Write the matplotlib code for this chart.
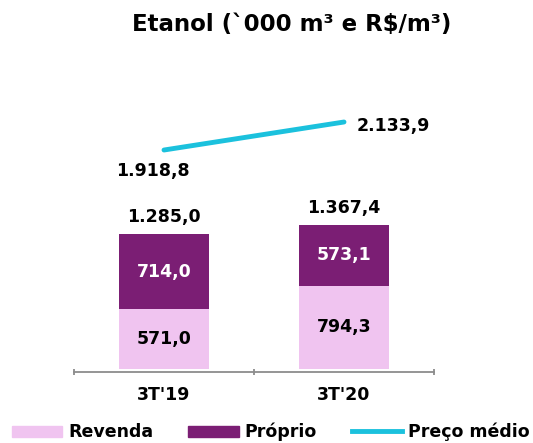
import matplotlib
matplotlib.use("Agg")
import matplotlib.pyplot as plt
from matplotlib.patches import Patch
from matplotlib.lines import Line2D

categories = ["3T'19", "3T'20"]
revenda = [571.0, 794.3]
proprio = [714.0, 573.1]
totais = [1285.0, 1367.4]
preco = [1918.8, 2133.9]
title = "Etanol (`000 m³ e R$/m³)"

def fmt(v):
    s = f"{v:,.1f}"
    return s.replace(",", "X").replace(".", ",").replace("X", ".")

C_REV = "#F0C4F0"
C_PRO = "#7B1E74"
C_LINE = "#1BC1DD"

plt.rcParams['font.family'] = ['DejaVu Sans']
W, H = 533, 443
fig = plt.figure(figsize=(W/100, H/100), dpi=100)

ax_bottom = 443 - 369
ax_h = 250
ax = fig.add_axes([74/W, ax_bottom/H, 360/W, ax_h/H])
x = list(range(len(categories)))
ax.bar(x, revenda, width=0.505, color=C_REV, zorder=2)
ax.bar(x, proprio, width=0.505, bottom=revenda, color=C_PRO, zorder=2)
ax.set_xlim(-0.5, 1.5)
ax.set_ylim(0, 2380)

for i in x:
    ax.text(i, revenda[i]/2, fmt(revenda[i]), ha='center', va='center',
            fontsize=12.5, fontweight='bold', color='black')
    ax.text(i, revenda[i] + proprio[i]/2, fmt(proprio[i]), ha='center', va='center',
            fontsize=12.5, fontweight='bold', color='white')
    ax.annotate(fmt(totais[i]), (i, totais[i]), xytext=(0, 12.5), textcoords='offset points',
                ha='center', va='center', fontsize=12.5, fontweight='bold')

for s in ['top', 'right', 'left']:
    ax.spines[s].set_visible(False)
ax.spines['bottom'].set_color('#8c8c8c')
ax.spines['bottom'].set_linewidth(1.3)
ax.spines['bottom'].set_position(('outward', 2))
ax.set_yticks([])
ax.set_xticks(x)
ax.set_xticklabels(categories, fontsize=12.5, fontweight='bold')
ax.tick_params(axis='x', which='major', length=0, pad=10)
ax.set_xticks([-0.5, 0.5, 1.5], minor=True)
ax.tick_params(axis='x', which='minor', length=5, width=1.3, direction='inout', color='#8c8c8c')

ax2 = ax.twinx()
ax2.set_ylim(237, 2157)
ax2.plot(x, preco, color=C_LINE, lw=3.5, solid_capstyle='round', zorder=3)
ax2.axis('off')
ax2.annotate(fmt(preco[0]), (0, preco[0]), xytext=(-8, -15), textcoords='offset points',
             ha='center', va='center', fontsize=12.5, fontweight='bold')
ax2.annotate(fmt(preco[1]), (1, preco[1]), xytext=(9.4, -2.9), textcoords='offset points',
             ha='left', va='center', fontsize=12.5, fontweight='bold')

fig.text(292/W, (H-25)/H, title, ha='center', va='center', fontsize=16.5, fontweight='bold')

handles = [Patch(color=C_REV), Patch(color=C_PRO), Line2D([], [], color=C_LINE, lw=3.5)]
labels = ["Revenda", "Próprio", "Preço médio"]
fig.legend(handles, labels, loc='center left', bbox_to_anchor=(12/W, (H-432)/H), ncol=3,
           frameon=False, prop={'size': 12.5, 'weight': 'bold'}, handlelength=2.9,
           handleheight=0.58, handletextpad=0.35, columnspacing=2.0, borderpad=0, borderaxespad=0)

fig.savefig("out.png", dpi=100)
